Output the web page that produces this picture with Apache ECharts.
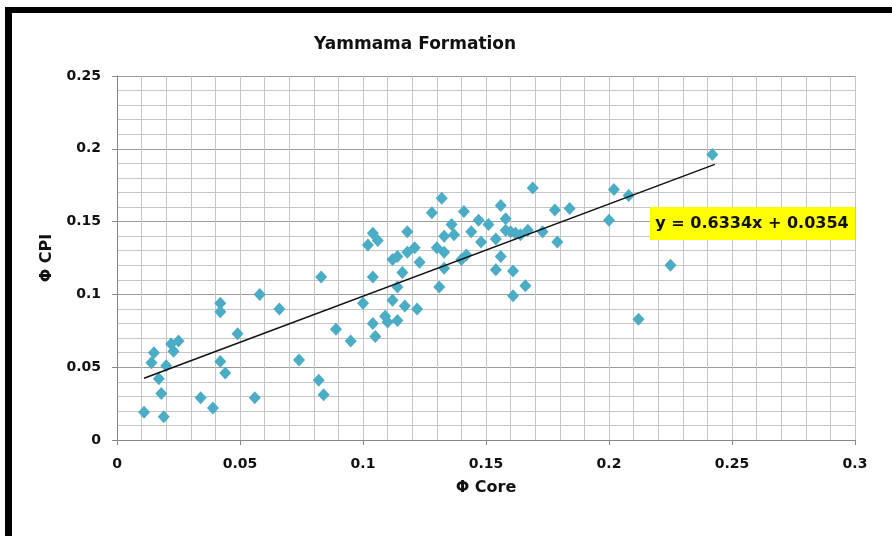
<!DOCTYPE html>
<html>
<head>
<meta charset="utf-8">
<script src="https://cdn.jsdelivr.net/npm/echarts@6/dist/echarts.min.js"></script>
<style>
html,body{margin:0;padding:0;background:#fff;}
#c{width:892px;height:536px;}
</style>
</head>
<body>
<div id="c"></div>
<script>
// Φ Core (x) values
var phiCore = [
0.011,0.019,0.018,0.017,0.014,0.015,0.020,0.023,0.022,0.025,
0.042,0.042,0.058,0.066,0.049,0.042,0.044,0.034,0.039,0.056,
0.074,0.082,0.084,0.083,0.089,0.095,0.100,0.104,0.104,0.105,
0.102,0.104,0.106,0.118,0.112,0.114,0.118,0.121,0.116,0.114,
0.112,0.117,0.122,0.109,0.110,0.114,0.123,0.128,0.132,0.130,
0.133,0.133,0.131,0.136,0.137,0.133,0.141,0.140,0.142,0.144,
0.147,0.151,0.148,0.154,0.156,0.158,0.158,0.160,0.162,0.164,
0.156,0.154,0.161,0.161,0.166,0.167,0.173,0.169,0.178,0.184,
0.179,0.202,0.208,0.200,0.225,0.212,0.242
];
// Φ CPI (y) values
var phiCPI = [
0.019,0.016,0.032,0.042,0.053,0.060,0.051,0.061,0.066,0.068,
0.094,0.088,0.100,0.090,0.073,0.054,0.046,0.029,0.022,0.029,
0.055,0.041,0.031,0.112,0.076,0.068,0.094,0.112,0.080,0.071,
0.134,0.142,0.137,0.143,0.124,0.126,0.129,0.132,0.115,0.105,
0.096,0.092,0.090,0.085,0.081,0.082,0.122,0.156,0.166,0.132,
0.129,0.118,0.105,0.148,0.141,0.140,0.157,0.124,0.127,0.143,
0.151,0.148,0.136,0.138,0.161,0.152,0.144,0.143,0.142,0.141,
0.126,0.117,0.116,0.099,0.106,0.144,0.143,0.173,0.158,0.159,
0.136,0.172,0.168,0.151,0.120,0.083,0.196
];
// linear trendline
var slope = 0.6334;
var intercept = 0.0354;
var trendX = [0.011, 0.243];
var xTicks = [0, 0.05, 0.1, 0.15, 0.2, 0.25, 0.3];
var yTicks = [0, 0.05, 0.1, 0.15, 0.2, 0.25];

var points = phiCore.map(function (x, i) { return [x, phiCPI[i]]; });
var trend = trendX.map(function (x) { return [x, slope * x + intercept]; });

var FONT = '"DejaVu Sans", sans-serif';
var chart = echarts.init(document.getElementById('c'));
chart.setOption({
  animation: false,
  backgroundColor: '#ffffff',
  title: {
    text: 'Yammama Formation',
    left: 309, top: 31,
    textStyle: { fontFamily: FONT, fontWeight: 'bold', fontSize: 17, color: '#111' }
  },
  grid: { left: 117, right: 37, top: 76, bottom: 96 },
  xAxis: {
    type: 'value', min: xTicks[0], max: xTicks[xTicks.length - 1], interval: 0.05,
    name: 'Φ Core', nameLocation: 'middle', nameGap: 40,
    nameTextStyle: { fontFamily: FONT, fontWeight: 'bold', fontSize: 16, color: '#111' },
    axisLine: { show: true, lineStyle: { color: '#868686', width: 1 } },
    axisTick: { show: true, length: 5, lineStyle: { color: '#868686' } },
    axisLabel: { margin: 17, fontFamily: FONT, fontWeight: 'bold', fontSize: 14, color: '#111' },
    splitLine: { show: true, lineStyle: { color: '#c6c6c6', width: 1 } },
    minorTick: { show: false, splitNumber: 5 },
    minorSplitLine: { show: true, lineStyle: { color: '#c6c6c6', width: 1 } }
  },
  yAxis: {
    type: 'value', min: yTicks[0], max: yTicks[yTicks.length - 1], interval: 0.05,
    name: 'Φ CPI', nameLocation: 'middle', nameGap: 62,
    nameTextStyle: { fontFamily: FONT, fontWeight: 'bold', fontSize: 16, color: '#111' },
    axisLine: { show: true, lineStyle: { color: '#868686', width: 1 } },
    axisTick: { show: true, length: 5, lineStyle: { color: '#868686' } },
    axisLabel: { margin: 16, fontFamily: FONT, fontWeight: 'bold', fontSize: 14, color: '#111' },
    splitLine: { show: true, lineStyle: { color: '#9c9c9c', width: 1 } },
    minorTick: { show: false, splitNumber: 5 },
    minorSplitLine: { show: true, lineStyle: { color: '#c6c6c6', width: 1 } }
  },
  series: [
    {
      type: 'scatter', data: points, symbol: 'diamond', symbolSize: [12, 13],
      itemStyle: { color: '#4BACC6', opacity: 1 }, z: 3
    },
    {
      type: 'line', data: trend, symbol: 'none', z: 4,
      lineStyle: { color: '#111', width: 1.5 }
    }
  ],
  graphic: [
    { type: 'rect', shape: { x: 5, y: 7, width: 887, height: 6 }, style: { fill: '#000' }, z: 100 },
    { type: 'rect', shape: { x: 5, y: 7, width: 7, height: 529 }, style: { fill: '#000' }, z: 100 },
    { type: 'rect', shape: { x: 650, y: 207, width: 205, height: 33 }, style: { fill: '#ffff00' }, z: 100 },
    { type: 'text', x: 752, y: 224, z: 101,
      style: { text: 'y = 0.6334x + 0.0354', fontFamily: FONT, fontWeight: 'bold', fontSize: 16,
               fill: '#111', align: 'center', verticalAlign: 'middle' } }
  ]
});
</script>
</body>
</html>
